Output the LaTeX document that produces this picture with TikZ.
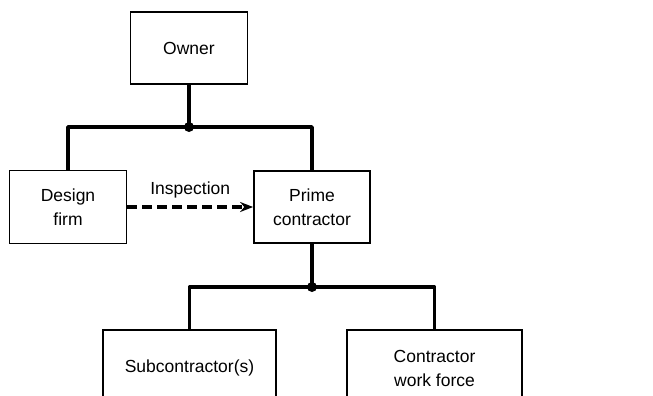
\documentclass[tikz,border=0pt]{standalone}
\usepackage{fontspec}
\setmainfont{Liberation Sans}
\usetikzlibrary{arrows.meta}
\begin{document}
\begin{tikzpicture}[x=1pt,y=-1pt,
  box/.style={draw, line width=1.8pt, inner sep=0pt, align=center,
    font=\fontsize{17.5}{24}\selectfont},
  link/.style={line width=3.6pt},
  joint/.style={circle, fill, inner sep=0pt, minimum size=10pt}]
\useasboundingbox (0,0) rectangle (653,396);
\clip (0,0) rectangle (653,396);
% organisation boxes
\node[box, minimum width=117pt, minimum height=72pt] (owner) at (189,48) {Owner};
\node[box, minimum width=117pt, minimum height=73pt] (design) at (68,207) {Design\\firm};
\node[box, minimum width=116pt, minimum height=72pt] (prime) at (312,207) {Prime\\contractor};
\node[box, minimum width=173pt, minimum height=76pt] (sub) at (189.5,368) {Subcontractor(s)};
\node[box, minimum width=175pt, minimum height=76pt] (force) at (434.5,368) {Contractor\\work force};
% junction points
\node[joint] (j1) at (189,127) {};
\node[joint] (j2) at (312,287) {};
% owner to its two parties
\draw[link] (owner.south) -- (j1.center);
\draw[link, line join=round] (design.north) -- (design.north |- j1) -- (prime.north |- j1) -- (prime.north);
% prime contractor to its parties
\draw[link] (prime.south) -- (j2.center);
\draw[link, line join=round] (sub.north) -- (sub.north |- j2) -- (force.north |- j2) -- (force.north);
% inspection relation
\draw[line width=3.2pt, dash pattern=on 10pt off 5pt, -{Stealth[length=13pt,width=10pt]}]
  (design.east) -- node[above=4pt, font=\fontsize{17.5}{24}\selectfont] (insp) {Inspection} (prime.west);
\end{tikzpicture}
\end{document}
